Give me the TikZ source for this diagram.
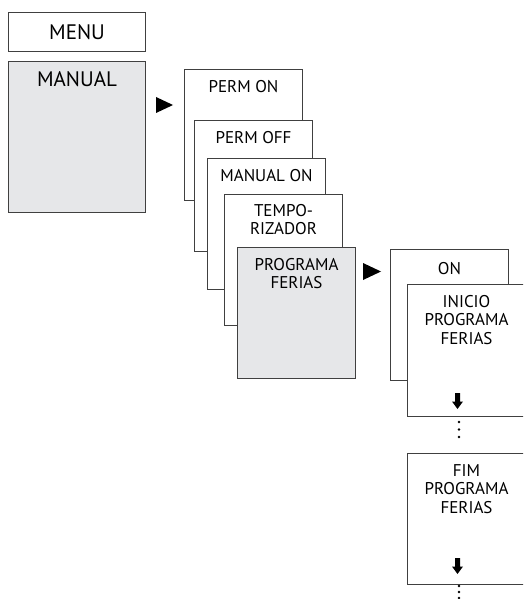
\documentclass[tikz,border=0pt]{standalone}
\usepackage{fontspec}
\setmainfont{PT Sans}
\usetikzlibrary{arrows.meta}

\definecolor{framegray}{HTML}{404040}
\definecolor{panelgray}{HTML}{E6E7E9}

\tikzset{
    screen/.style  = {draw=framegray, line width=1pt, fill=white, anchor=north west,
                      inner sep=0pt, minimum width=118pt, minimum height=131pt},
    chosen/.style  = {screen, fill=panelgray},
    caption/.style = {anchor=north, inner sep=0pt, align=center,
                      font=\fontsize{17}{18.5}\selectfont},
    bigcap/.style  = {caption, font=\fontsize{21}{24}\selectfont},
    pointer/.style = {fill=black},
}

% thick down arrow, top of shaft at #1,#2
\newcommand\godown[2]{%
    \fill (#1-2.5,#2) -- (#1+2.5,#2) -- (#1+2.5,#2+8.5) -- (#1+5.5,#2+8.5)
        -- (#1,#2+16) -- (#1-5.5,#2+8.5) -- (#1-2.5,#2+8.5) -- cycle;}

\begin{document}
\begin{tikzpicture}[x=1pt,y=-1pt]
    \useasboundingbox (0,0) rectangle (523,599);
    \clip (0,0) rectangle (523,599);

    % first column
    \node[screen, minimum width=137pt, minimum height=39pt] (menu) at (8,12) {};
    \node[bigcap, anchor=center] (menu-t) at (menu.center) {MENU};
    \node[chosen, minimum width=137pt, minimum height=151pt] (manual) at (8,61) {};
    \node[bigcap] (manual-t) at ([yshift=-10pt]manual.north) {MANUAL};

    \fill[pointer] (156,97) -- (173,105) -- (156,113) -- cycle;

    % second column
    \node[screen] (permon)  at (184, 69) {};
    \node[caption] (permon-t)  at ([yshift=-11pt]permon.north)  {PERM ON};
    \node[screen] (permoff) at (194,120) {};
    \node[caption] (permoff-t) at ([yshift=-11pt]permoff.north) {PERM OFF};
    \node[screen] (manon)   at (207,158) {};
    \node[caption] (manon-t)   at ([yshift=-11pt]manon.north)   {MANUAL ON};
    \node[screen] (tempo)   at (224,194) {};
    \node[caption] (tempo-t)   at ([yshift=-10pt]tempo.north)   {TEMPO-\\RIZADOR};
    \node[chosen] (ferias)  at (237,247) {};
    \node[caption] (ferias-t)  at ([yshift=-11pt]ferias.north)  {PROGRAMA\\FERIAS};

    \fill[pointer] (363,263) -- (381,271.5) -- (363,280) -- cycle;

    % third column
    \node[screen] (on)     at (390,249) {};
    \node[caption] (on-t)     at ([yshift=-13pt]on.north)     {ON};
    \node[screen, minimum height=132pt] (inicio) at (407,284) {};
    \node[caption] (inicio-t) at ([yshift=-11pt]inicio.north) {INICIO\\PROGRAMA\\FERIAS};
    \node[screen] (fim)    at (407,453) {};
    \node[caption] (fim-t)    at ([yshift=-11pt]fim.north)    {FIM\\PROGRAMA\\FERIAS};

    \godown{457.5}{393}
    \godown{457.5}{558}

    \foreach \y in {422,429.5,437,586,592,598}
        \fill (459,\y) circle (1.3pt);
\end{tikzpicture}
\end{document}
